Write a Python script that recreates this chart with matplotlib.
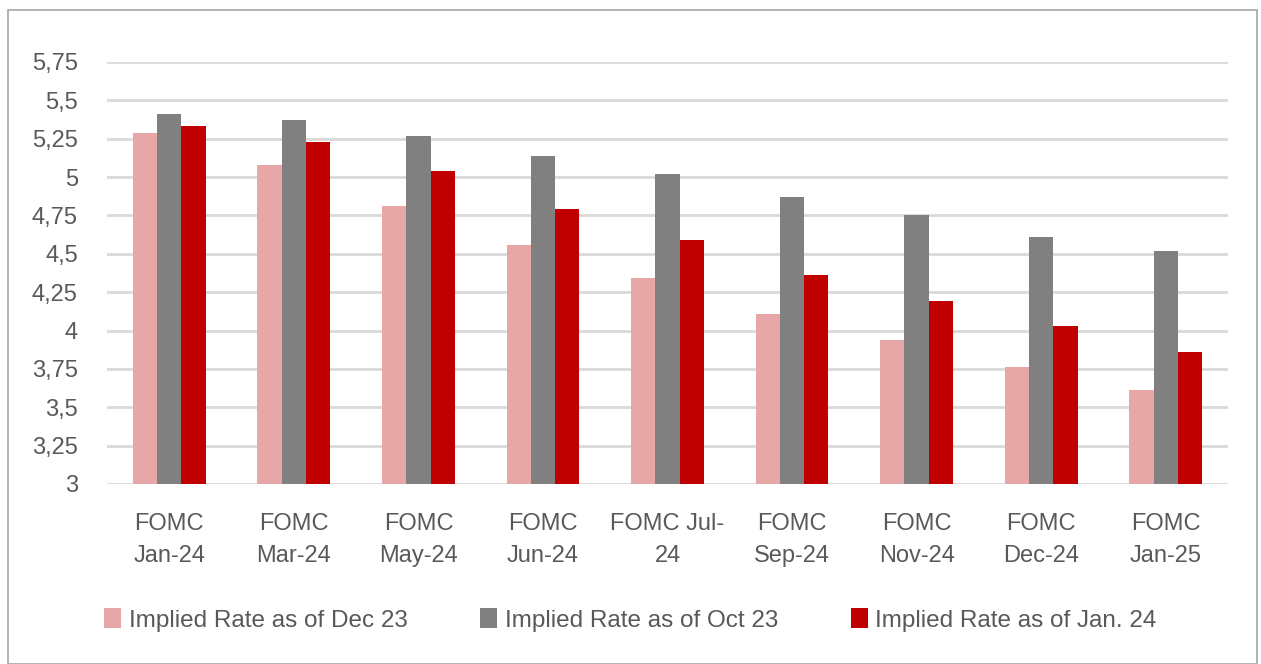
import numpy as np
import matplotlib.pyplot as plt
from matplotlib.patches import Rectangle

# Data
categories = ["FOMC\nJan-24", "FOMC\nMar-24", "FOMC\nMay-24", "FOMC\nJun-24", "FOMC Jul-\n24",
              "FOMC\nSep-24", "FOMC\nNov-24", "FOMC\nDec-24", "FOMC\nJan-25"]
rate_dec23 = [5.29, 5.08, 4.81, 4.56, 4.34, 4.11, 3.94, 3.76, 3.61]
rate_oct23 = [5.41, 5.37, 5.27, 5.14, 5.02, 4.87, 4.75, 4.61, 4.52]
rate_jan24 = [5.33, 5.23, 5.04, 4.79, 4.59, 4.36, 4.19, 4.03, 3.86]
series_names = ["Implied Rate as of Dec 23", "Implied Rate as of Oct 23", "Implied Rate as of Jan. 24"]
y_ticks = [3, 3.25, 3.5, 3.75, 4, 4.25, 4.5, 4.75, 5, 5.25, 5.5, 5.75]
y_tick_labels = ["3", "3,25", "3,5", "3,75", "4", "4,25", "4,5", "4,75", "5", "5,25", "5,5", "5,75"]

colors = ["#E8A7A7", "#808080", "#C00000"]
text_col = "#595959"

plt.rcParams["font.family"] = ["Liberation Sans", "DejaVu Sans"]

fig = plt.figure(figsize=(12.61, 6.64), dpi=100)
W, H = 1261, 664
ax = fig.add_axes([107 / W, 1 - 484 / H, (1228 - 107) / W, (484 - 62) / H])

x = np.arange(len(categories))
bw = 0.195
for i, (vals, name) in enumerate(zip([rate_dec23, rate_oct23, rate_jan24], series_names)):
    ax.bar(x + (i - 1) * bw, np.array(vals) - 3, bottom=3, width=bw, color=colors[i],
           label=name, zorder=3)

ax.set_xlim(-0.5, len(categories) - 0.5)
ax.set_ylim(3, 5.75)
ax.set_yticks(y_ticks)
ax.set_yticklabels(y_tick_labels)
ax.set_xticks(x)
ax.set_xticklabels(categories, linespacing=1.55)
ax.yaxis.grid(True, color="#D9D9D9", linewidth=2, zorder=0)
ax.tick_params(axis="both", length=0, labelsize=17, labelcolor=text_col)
ax.tick_params(axis="y", pad=21)
ax.tick_params(axis="x", pad=21)
for s in ax.spines.values():
    s.set_visible(False)

leg = fig.legend(loc="center", bbox_to_anchor=(0.5, 1 - 620 / H), ncol=3, frameon=False,
                 fontsize=17.5, labelcolor=text_col, handlelength=0.7, handleheight=0.9,
                 handletextpad=0.3, columnspacing=3.0)

# outer chart frame
fig.patches.append(Rectangle((8 / W, 0.0), (1257 - 8) / W, 1 - 10 / H, transform=fig.transFigure,
                             fill=False, edgecolor="#A6A6A6", linewidth=1.2))

fig.savefig("out.png", dpi=100)
